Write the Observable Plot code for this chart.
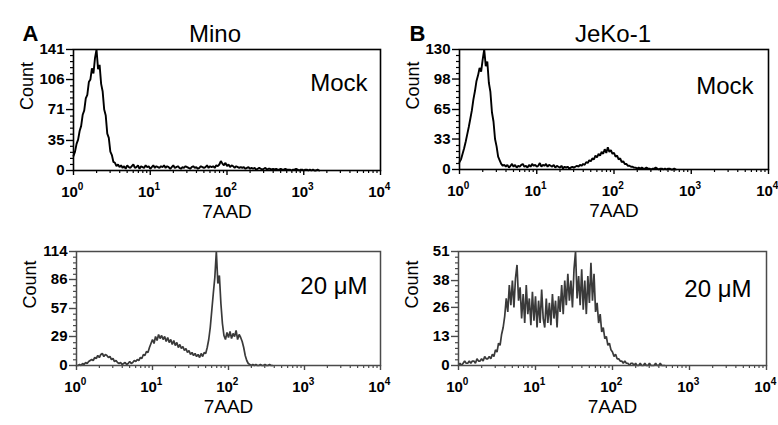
<!DOCTYPE html>
<html>
<head>
<meta charset="utf-8">
<script src="https://cdn.jsdelivr.net/npm/d3@7"></script>
<script src="https://cdn.jsdelivr.net/npm/@observablehq/plot@0.6"></script>
<style>
  html, body { margin: 0; padding: 0; background: #fff; }
  #fig { position: relative; width: 778px; height: 425px; overflow: hidden; background: #fff; }
  .panel { position: absolute; }
  .panel svg { max-width: none; display: block; }
</style>
</head>
<body>
<div id="fig"></div>
<script>
// Histogram channels: log10(7AAD) bins starting at 10^0, 0.02 decade apart
const binLogStart = 0;
const binLogStep = 0.02;

// Mino, Mock
const minoMockCounts = [
  17,22,31,36,46,52,65,70,84,88,
  103,106,119,113,131,141,118,123,101,92,
  71,64,43,38,22,18,10,9,5,7,
  4,6,3,5,2,6,4,3,5,7,
  3,4,6,2,5,4,3,6,4,5,
  2,4,6,3,5,4,3,5,4,6,
  3,5,4,2,4,6,3,4,5,3,
  2,4,3,5,4,3,2,4,5,3,
  4,2,3,5,4,3,4,6,3,5,
  4,5,3,6,5,7,11,8,6,9,
  5,7,4,6,5,3,5,4,3,4,
  3,4,2,3,4,2,3,2,3,1,
  2,3,2,1,2,3,1,2,2,1,
  2,1,2,1,1,2,1,1,2,1,
  1,1,0,1,1,2,1,0,1,1,
  0,1,1,0,1,0,1,0,0,1,0
];
// JeKo-1, Mock
const jekoMockCounts = [
  8,11,17,23,30,38,46,55,64,76,
  85,96,102,110,106,119,130,112,117,94,
  84,62,52,33,25,14,10,6,4,5,
  3,5,2,4,6,3,5,2,4,3,
  5,6,3,4,2,5,3,6,4,5,
  3,4,7,3,5,4,6,3,5,4,
  3,5,2,4,3,2,4,1,3,2,
  3,1,2,3,2,3,4,3,5,4,
  6,5,8,7,10,9,12,11,15,13,
  17,15,19,17,22,18,24,19,21,17,
  18,14,15,11,12,8,9,6,6,4,
  4,3,3,2,2,1,2,1,2,1,
  1,2,1,1,0,1,1,2,1,0,
  1,1,0,1,0,1,1,0,0,1,0
];
// Mino, 20 µM
const minoDrugCounts = [
  0,0,1,0,2,1,3,2,4,5,
  6,5,8,7,10,8,11,12,9,11,
  10,8,9,6,7,4,5,3,2,3,
  1,2,3,1,2,4,2,3,5,4,
  6,5,8,7,11,10,14,13,18,22,
  26,22,29,25,31,27,30,26,29,24,
  28,23,26,21,25,20,23,18,21,17,
  19,15,17,13,15,11,13,10,12,9,
  11,8,12,9,13,12,18,26,38,55,
  72,88,114,82,90,62,42,30,26,33,
  28,34,27,32,29,35,26,31,28,24,
  18,10,5,2,1,0,1,0,1,0,
  0,1,0,0,1,0,0,1,0,0
];
// JeKo-1, 20 µM
const jekoDrugCounts = [
  0,1,0,1,2,1,1,2,1,2,
  2,1,3,2,2,3,2,4,3,3,
  4,3,5,4,7,6,10,9,14,17,
  22,30,24,36,27,38,26,39,45,29,
  35,21,32,19,36,23,30,18,33,20,
  31,17,29,19,34,21,17,30,19,28,
  18,32,21,29,17,31,24,36,23,38,
  27,41,29,38,26,43,51,30,40,27,
  43,25,38,23,40,28,46,29,41,24,
  28,19,23,15,17,12,13,9,10,7,
  6,4,5,3,3,2,2,1,2,1,
  1,0,1,1,0,1,0,0,1,0,
  0,1,0,0,1,0,0,0,1,0,0,1,0,0,0
];

const minoMockYTicks = [0, 35, 71, 106, 141];
const jekoMockYTicks = [0, 33, 65, 98, 130];
const minoDrugYTicks = [0, 29, 57, 86, 114];
const jekoDrugYTicks = [0, 13, 26, 38, 51];

const xMajorTicks = [1, 10, 100, 1000, 10000];
const xTickBase = "10";
const xTickExponents = ["0", "1", "2", "3", "4"];

const cellLines = ["Mino", "JeKo-1"];
const panelLetters = ["A", "B"];
const conditions = ["Mock", "20 μM"];
const xLabel = "7AAD";
const yLabel = "Count";

const font = "'Liberation Sans', Arial, Helvetica, sans-serif";

function drawPanel(cfg) {
  const rows = cfg.counts.map((c, i) => ({x: 10 ** (binLogStart + i * binLogStep), count: c}));
  const yMax = cfg.yTicks[cfg.yTicks.length - 1];
  const yMinor = d3.range(1, 20).filter(i => i % 5 !== 0).map(i => yMax * i / 20);
  const xMinor = xMajorTicks.slice(0, -1).flatMap(d => d3.range(2, 10).map(k => d * k));

  const marks = [
    Plot.axisX({ticks: xMinor, tickSize: 3, tickFormat: () => "", label: null, stroke: cfg.frame, strokeWidth: 1.2}),
    Plot.axisX({ticks: xMajorTicks, tickSize: 5, tickFormat: () => "", label: null, stroke: cfg.frame, strokeWidth: 1.4}),
    Plot.axisY({ticks: yMinor, tickSize: 3, tickFormat: () => "", label: null, stroke: cfg.frame, strokeWidth: 1.2}),
    Plot.axisY({ticks: cfg.yTicks, tickSize: 7, tickPadding: 2, tickFormat: d => String(d), label: null,
      stroke: cfg.frame, strokeWidth: 1.4, fill: "#000", fontSize: 15, fontWeight: "bold", fontFamily: font}),
    Plot.line(rows, {x: "x", y: "count", stroke: cfg.lineColor, strokeWidth: cfg.lineWidth, strokeLinejoin: "miter", curve: "linear"}),
    Plot.frame({stroke: cfg.frame, strokeWidth: cfg.frameWidth}),
    Plot.text(xMajorTicks, {x: d => d, frameAnchor: "bottom", text: () => xTickBase, dx: -4, dy: 26,
      fontSize: 15, fontWeight: "bold", fontFamily: font, fill: "#000"}),
    Plot.text(xMajorTicks, {x: d => d, frameAnchor: "bottom", text: (d, i) => xTickExponents[i], dx: 7, dy: 19,
      fontSize: 10, fontWeight: "bold", fontFamily: font, fill: "#000"}),
    Plot.text([xLabel], {text: d => d, frameAnchor: "bottom", dy: 47, fontSize: 19, fontFamily: font, fill: "#000"}),
    Plot.text([yLabel], {text: d => d, frameAnchor: "left", dx: -46, rotate: -90, fontSize: 18, fontFamily: font, fill: "#000"}),
    Plot.text([cfg.condition], {text: d => d, frameAnchor: "top-right", textAnchor: "end", dx: cfg.condDx, dy: cfg.condDy,
      fontSize: 24, fontFamily: font, fill: "#000"})
  ];
  if (cfg.title) {
    marks.push(Plot.text([cfg.title], {text: d => d, frameAnchor: "top", dx: cfg.titleDx, dy: -25,
      fontSize: 24, fontFamily: font, fill: "#000"}));
    marks.push(Plot.text([cfg.letter], {text: d => d, frameAnchor: "top-left", dx: cfg.letterDx, dy: -24,
      fontSize: 22, fontWeight: "bold", fontFamily: font, fill: "#000"}));
  }

  const svg = Plot.plot({
    width: cfg.w, height: cfg.h,
    marginLeft: cfg.mL, marginRight: cfg.mR, marginTop: cfg.mT, marginBottom: cfg.mB,
    x: {type: "log", domain: [1, 1e4]},
    y: {domain: [0, yMax]},
    style: {background: "transparent", overflow: "visible", fontFamily: font},
    marks
  });
  const div = document.createElement("div");
  div.className = "panel";
  div.style.left = cfg.left + "px";
  div.style.top = cfg.top + "px";
  div.style.width = cfg.w + "px";
  div.style.height = cfg.h + "px";
  div.appendChild(svg);
  document.getElementById("fig").appendChild(div);
}

const panels = [
  {counts: minoMockCounts, yTicks: minoMockYTicks, condition: conditions[0], title: cellLines[0], letter: panelLetters[0],
   left: 0, top: 0, w: 400, h: 240, mL: 73, mR: 20, mT: 49, mB: 70,
   frame: "#000", frameWidth: 1.6, lineColor: "#000", lineWidth: 1.9, condDx: -13, condDy: 24, titleDx: -12, letterDx: -51},
  {counts: jekoMockCounts, yTicks: jekoMockYTicks, condition: conditions[0], title: cellLines[1], letter: panelLetters[1],
   left: 400, top: 0, w: 378, h: 240, mL: 59, mR: 10, mT: 49, mB: 71,
   frame: "#000", frameWidth: 1.6, lineColor: "#000", lineWidth: 1.9, condDx: -15, condDy: 27, titleDx: -1, letterDx: -50},
  {counts: minoDrugCounts, yTicks: minoDrugYTicks, condition: conditions[1],
   left: 0, top: 240, w: 400, h: 185, mL: 76, mR: 20, mT: 11, mB: 60,
   frame: "#4a4a4a", frameWidth: 1.5, lineColor: "#3a3a3a", lineWidth: 1.7, condDx: -13, condDy: 25},
  {counts: jekoDrugCounts, yTicks: jekoDrugYTicks, condition: conditions[1],
   left: 400, top: 240, w: 378, h: 185, mL: 58, mR: 12, mT: 11, mB: 60,
   frame: "#4a4a4a", frameWidth: 1.5, lineColor: "#3a3a3a", lineWidth: 1.7, condDx: -15, condDy: 28}
];
panels.forEach(drawPanel);
</script>
</body>
</html>
